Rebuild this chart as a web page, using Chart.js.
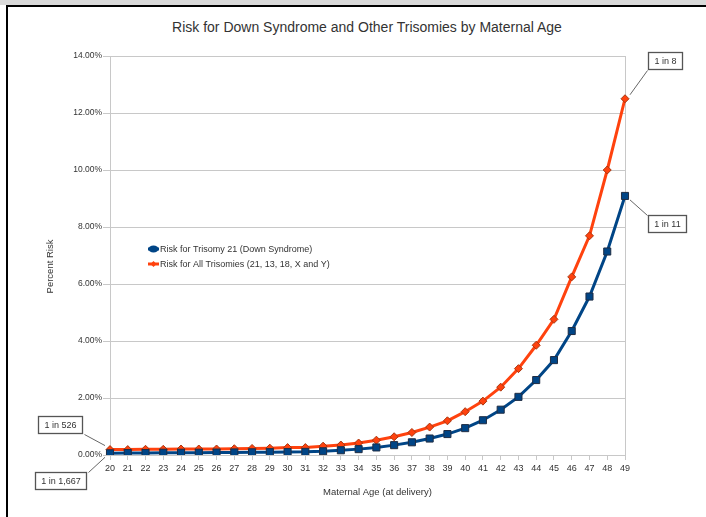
<!DOCTYPE html>
<html>
<head>
<meta charset="utf-8">
<script src="https://cdn.jsdelivr.net/npm/chart.js@4.4.1/dist/chart.umd.min.js"></script>
<style>
  html, body { margin: 0; padding: 0; background: #fff; }
  body { width: 706px; height: 517px; position: relative; overflow: hidden; font-family: "Liberation Sans", Arial, sans-serif; }
  #band { position: absolute; left: 0; top: 0; width: 706px; height: 5px; background: #d9d9d9; }
  #frame { position: absolute; left: 6px; top: 5px; width: 720px; height: 530px; border-top: 2px solid #000; border-left: 2px solid #000; }
  #title { position: absolute; left: 0; width: 734px; top: 18px; text-align: center; font-size: 14px; line-height: 18px; color: #333; }
  #wrap { position: absolute; left: 0; top: 0; width: 706px; height: 517px; }
</style>
</head>
<body>
<div id="band"></div>
<div id="frame"></div>
<div id="title">Risk for Down Syndrome and Other Trisomies by Maternal Age</div>
<div id="wrap"><canvas id="riskChart"></canvas></div>
<script>
// maternal age at delivery
const ages = [20, 21, 22, 23, 24, 25, 26, 27, 28, 29, 30, 31, 32, 33, 34,
              35, 36, 37, 38, 39, 40, 41, 42, 43, 44, 45, 46, 47, 48, 49];

// percent risk, trisomy 21 (down syndrome)
const trisomy21 = [0.06, 0.07, 0.07, 0.08, 0.08, 0.08, 0.085, 0.09, 0.095, 0.10,
                   0.105, 0.11, 0.13, 0.166, 0.206, 0.265, 0.346, 0.446, 0.578, 0.735,
                   0.943, 1.22, 1.59, 2.04, 2.63, 3.33, 4.35, 5.56, 7.14, 9.09];

// percent risk, all trisomies (21, 13, 18, X and Y)
const allTrisomies = [0.19, 0.19, 0.20, 0.20, 0.21, 0.21, 0.21, 0.22, 0.23, 0.24,
                      0.26, 0.26, 0.31, 0.35, 0.42, 0.52, 0.64, 0.79, 0.98, 1.20,
                      1.52, 1.89, 2.38, 3.03, 3.85, 4.76, 6.25, 7.69, 10.0, 12.5];

const seriesNames = ["Risk for Trisomy 21 (Down Syndrome)", "Risk for All Trisomies (21, 13, 18, X and Y)"];

// callouts: text, dataset index, point index
const callouts = [
    { text: "1 in 526", ds: 1, idx: 0 },
    { text: "1 in 1,667", ds: 0, idx: 0 },
    { text: "1 in 8", ds: 1, idx: 29 },
    { text: "1 in 11", ds: 0, idx: 29 }
];
// box offsets from the point (left, top)
const calloutOffsets = [[-72, -34], [-75, 19], [23, -47], [23, 19]];

const FONT = "'Liberation Sans', Arial, sans-serif";
const BLUE = "#004586";
const ORANGE = "#ff420e";

// frame round the plot area, legend inside it, axis titles and the callout boxes
const decorPlugin = {
    id: "decor",
    beforeDatasetsDraw(chart) {
        const ctx = chart.ctx, a = chart.chartArea;
        ctx.save();
        ctx.strokeStyle = "#c8c8c8";
        ctx.lineWidth = 1;
        ctx.beginPath();
        ctx.moveTo(Math.round(a.right) + 0.5, a.top);
        ctx.lineTo(Math.round(a.right) + 0.5, a.bottom);
        ctx.stroke();

        // axis titles
        ctx.fillStyle = "#333";
        ctx.font = "9.5px " + FONT;
        ctx.textAlign = "center";
        ctx.textBaseline = "middle";
        ctx.fillText("Maternal Age (at delivery)", (a.left + a.right) / 2 + 10, a.bottom + 37);
        ctx.translate(a.left - 60, (a.top + a.bottom) / 2 + 11);
        ctx.rotate(-Math.PI / 2);
        ctx.fillText("Percent Risk", 0, 0);
        ctx.restore();
    },
    afterDatasetsDraw(chart) {
        const ctx = chart.ctx, a = chart.chartArea;
        ctx.save();

        // legend
        ctx.font = "9px " + FONT;
        ctx.textBaseline = "middle";
        const lx = a.left + 38, ly = a.top + 193;
        seriesNames.forEach((name, i) => {
            const y = ly + i * 15;
            const ds = chart.data.datasets[i];
            ctx.strokeStyle = ds.borderColor;
            ctx.lineWidth = 3;
            ctx.beginPath();
            ctx.moveTo(lx, y);
            ctx.lineTo(lx + 11, y);
            ctx.stroke();
            ctx.fillStyle = ds.borderColor;
            ctx.beginPath();
            if (i === 0) {
                ctx.ellipse(lx + 5.5, y, 5, 3.5, 0, 0, Math.PI * 2);
            } else {
                ctx.moveTo(lx + 5.5, y - 3); ctx.lineTo(lx + 8.5, y);
                ctx.lineTo(lx + 5.5, y + 3); ctx.lineTo(lx + 2.5, y);
                ctx.closePath();
            }
            ctx.fill();
            ctx.fillStyle = "#333";
            ctx.fillText(name, lx + 12, y + 0.5);
        });

        // callouts
        ctx.font = "9px " + FONT;
        ctx.textAlign = "center";
        callouts.forEach((c, k) => {
            const pt = chart.getDatasetMeta(c.ds).data[c.idx];
            const [dx, dy] = calloutOffsets[k];
            const w = Math.ceil(ctx.measureText(c.text).width) + 11, h = 17;
            const bx = Math.round(pt.x + dx) + 0.5, by = Math.round(pt.y + dy) + 0.5;
            // leader line
            const ex = dx < 0 ? bx + w : bx;
            const ey = dy < 0 ? by + h : by;
            const sx = pt.x + (dx < 0 ? -5 : 5);
            const sy = pt.y + (dy < 0 ? -4 : 4);
            ctx.strokeStyle = "#666";
            ctx.lineWidth = 1;
            ctx.beginPath();
            ctx.moveTo(sx, sy);
            ctx.lineTo(ex + (dx < 0 ? 2 : -1), ey + (dy < 0 ? 1 : 0));
            ctx.stroke();
            // box
            ctx.fillStyle = "#fff";
            ctx.fillRect(bx, by, w, h);
            ctx.strokeStyle = "#555";
            ctx.lineWidth = 1.3;
            ctx.strokeRect(bx, by, w, h);
            ctx.fillStyle = "#333";
            ctx.fillText(c.text, bx + w / 2, by + h / 2 + 0.5);
        });
        ctx.restore();
    }
};

new Chart(document.getElementById("riskChart"), {
    type: "line",
    data: {
        labels: ages,
        datasets: [
            {
                label: seriesNames[0],
                data: trisomy21,
                borderColor: BLUE,
                backgroundColor: BLUE,
                pointBorderColor: "#1f2d44",
                pointBorderWidth: 1,
                pointStyle: "rect",
                pointRadius: 5,
                borderWidth: 3,
                tension: 0
            },
            {
                label: seriesNames[1],
                data: allTrisomies,
                borderColor: ORANGE,
                backgroundColor: ORANGE,
                pointBorderColor: "#a8360f",
                pointBorderWidth: 1,
                pointStyle: "rectRot",
                pointRadius: 4,
                borderWidth: 3,
                tension: 0
            }
        ]
    },
    options: {
        responsive: true,
        maintainAspectRatio: false,
        animation: false,
        layout: { padding: { left: 0, right: 81, top: 56, bottom: 0 } },
        plugins: {
            legend: { display: false },
            tooltip: { enabled: false },
            title: { display: false }
        },
        scales: {
            x: {
                offset: false,
                grid: { drawOnChartArea: false, color: "#c8c8c8", tickLength: 5 },
                border: { color: "#c8c8c8" },
                ticks: { color: "#333", font: { family: FONT, size: 9 }, padding: 3, maxRotation: 0, autoSkip: false },
                afterFit: s => { s.height = 62; }
            },
            y: {
                min: 0,
                max: 14,
                grid: { color: "#c8c8c8", tickLength: 7 },
                border: { color: "#c8c8c8" },
                ticks: {
                    stepSize: 2,
                    color: "#333",
                    font: { family: FONT, size: 8.5 },
                    padding: 1,
                    callback: v => v.toFixed(2) + "%"
                },
                afterFit: s => { s.width = 110; }
            }
        }
    },
    plugins: [decorPlugin]
});
</script>
</body>
</html>
